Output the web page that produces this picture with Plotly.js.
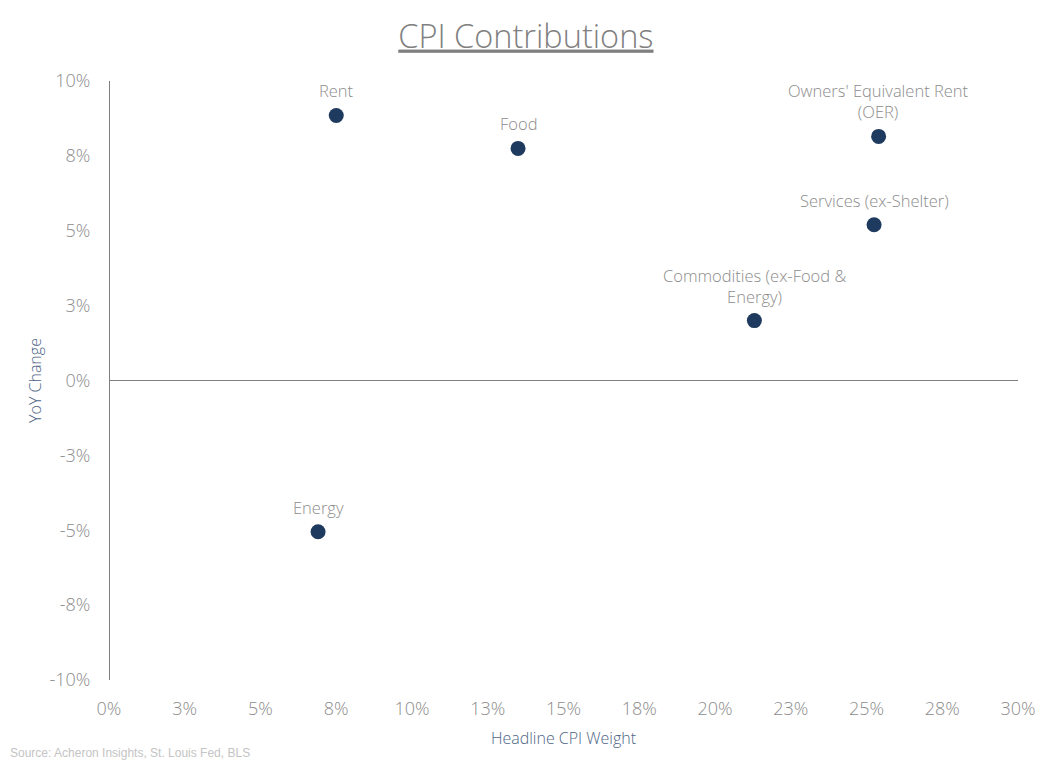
<!DOCTYPE html>
<html>
<head>
<meta charset="utf-8">
<script src="https://cdn.plot.ly/plotly-3.0.1.min.js"></script>
<style>html,body{margin:0;padding:0;background:#fff;}#chart{width:1056px;height:770px;}</style>
</head>
<body>
<div id="chart"></div>
<script>
const categories = ["Rent", "Food", "Owners' Equivalent Rent<br>(OER)", "Services (ex-Shelter)", "Commodities (ex-Food &<br>Energy)", "Energy"];
const weights = [7.5, 13.5, 25.4, 25.25, 21.3, 6.9];
const yoyChange = [8.85, 7.75, 8.15, 5.2, 2.0, -5.05];
const xTickVals = [0, 2.5, 5, 7.5, 10, 12.5, 15, 17.5, 20, 22.5, 25, 27.5, 30];
const xTickText = ["0%", "3%", "5%", "8%", "10%", "13%", "15%", "18%", "20%", "23%", "25%", "28%", "30%"];
const yTickVals = [10, 7.5, 5, 2.5, 0, -2.5, -5, -7.5, -10];
const yTickText = ["10%", "8%", "5%", "3%", "0%", "-3%", "-5%", "-8%", "-10%"];

const fontFam = "'Open Sans', 'Segoe UI', sans-serif";
const trace = {
  type: 'scatter', mode: 'markers',
  x: weights, y: yoyChange,
  marker: {size: 15, color: '#1f3a5f'},
  cliponaxis: false, hoverinfo: 'skip'
};
const labelAnns = categories.map((c, i) => ({
  text: c, x: weights[i], y: yoyChange[i], xref: 'x', yref: 'y',
  xanchor: 'center', yanchor: 'bottom', yshift: 11, showarrow: false,
  font: {family: fontFam, size: 16.5, color: '#8c8c8c', weight: 300}
}));
const layout = {
  width: 1056, height: 770,
  margin: {l: 109, r: 38, t: 81, b: 90},
  paper_bgcolor: '#fff', plot_bgcolor: '#fff',
  showlegend: false,
  title: {text: '<u>CPI Contributions</u>', x: 0.498, xref: 'container', xanchor: 'center', y: 0.953, yanchor: 'middle',
    font: {family: fontFam, size: 32.5, color: '#808080', weight: 300}},
  xaxis: {range: [0, 30], tickvals: xTickVals, ticktext: xTickText, showgrid: false,
    zeroline: true, zerolinecolor: '#7f7f7f', zerolinewidth: 1, showline: false,
    ticks: 'outside', ticklen: 12, tickcolor: 'rgba(0,0,0,0)',
    tickfont: {family: fontFam, size: 18, color: '#8c8c8c', weight: 300},
    title: {text: 'Headline CPI Weight', standoff: 14, font: {family: fontFam, size: 16, color: '#4e6585', weight: 300}}},
  yaxis: {range: [-10, 10], tickvals: yTickVals, ticktext: yTickText, showgrid: false,
    zeroline: true, zerolinecolor: '#7f7f7f', zerolinewidth: 1, showline: false,
    ticks: 'outside', ticklen: 14, tickcolor: 'rgba(0,0,0,0)',
    tickfont: {family: fontFam, size: 18, color: '#8c8c8c', weight: 300},
    title: {text: 'YoY Change', standoff: 3, font: {family: fontFam, size: 16, color: '#4e6585', weight: 300}}},
  annotations: labelAnns.concat([{text: 'Source: Acheron Insights, St. Louis Fed, BLS', xref: 'paper', yref: 'paper',
    x: -0.111, y: -0.122, xanchor: 'left', yanchor: 'middle', showarrow: false,
    font: {family: 'Arial, Liberation Sans, sans-serif', size: 12, color: '#c4c4c4'}}])
};
Plotly.newPlot('chart', [trace], layout, {displayModeBar: false, staticPlot: true});
</script>
</body>
</html>
